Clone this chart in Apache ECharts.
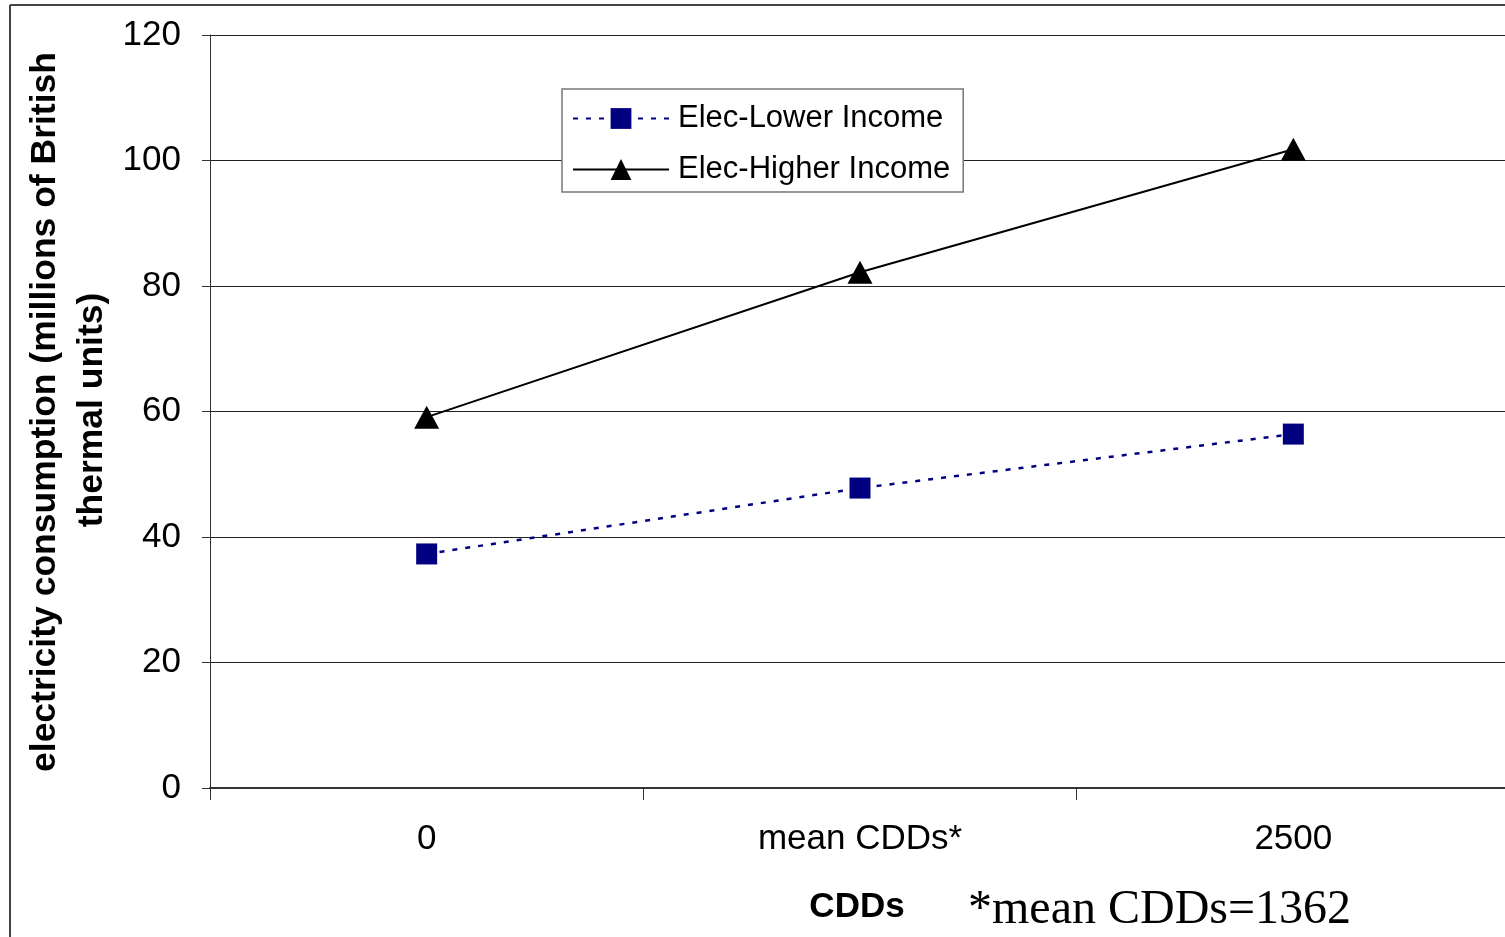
<!DOCTYPE html>
<html><head><meta charset="utf-8">
<script src="https://cdn.jsdelivr.net/npm/echarts@6/dist/echarts.min.js"></script>
<style>html,body{margin:0;padding:0;background:#fff;overflow:hidden}#c{width:1515px;height:937px}</style>
</head><body><div id="c"></div>
<script>
const categories = ['0', 'mean CDDs*', '2500'];
const lowerIncome = [37.3, 47.8, 56.4];
const higherIncome = [59.1, 82.2, 101.8];
const yTicks = [0, 20, 40, 60, 80, 100, 120];
const seriesNames = ['Elec-Lower Income', 'Elec-Higher Income'];

const chart = echarts.init(document.getElementById('c'), null, {renderer: 'canvas'});
const font = 'Liberation Sans, Arial, sans-serif';
chart.setOption({
  animation: false,
  backgroundColor: '#fff',
  grid: {left: 210, width: 1300, top: 35, height: 753, containLabel: false},
  xAxis: {
    type: 'category', data: categories, boundaryGap: true,
    axisLine: {lineStyle: {color: '#333', width: 2}},
    axisTick: {show: true, length: 12, lineStyle: {color: '#333', width: 1}},
    axisLabel: {fontFamily: font, fontSize: 35, color: '#000', margin: 34}
  },
  yAxis: {
    type: 'value', min: yTicks[0], max: yTicks[yTicks.length - 1], interval: 20,
    axisLine: {show: true, lineStyle: {color: '#333', width: 1}},
    axisTick: {show: true, length: 8, lineStyle: {color: '#333'}},
    axisLabel: {fontFamily: font, fontSize: 35, color: '#000', margin: 29},
    splitLine: {lineStyle: {color: '#222', width: 1}}
  },
  legend: {
    orient: 'vertical', left: 562, top: 89,
    data: seriesNames,
    backgroundColor: '#fff', borderColor: '#777', borderWidth: 1.5,
    padding: [14, 13, 7, 10], itemGap: 20,
    itemWidth: 96, itemHeight: 26,
    textStyle: {fontFamily: font, fontSize: 31, color: '#000', padding: [0, 0, 0, 4]}
  },
  graphic: [
    {type: 'line', shape: {x1: 10, y1: 5, x2: 1515, y2: 5}, style: {stroke: '#444', lineWidth: 2}},
    {type: 'line', shape: {x1: 10, y1: 5, x2: 10, y2: 937}, style: {stroke: '#444', lineWidth: 2}},
    {type: 'text', x: 45, y: 412, rotation: Math.PI / 2,
     style: {text: 'electricity consumption (millions of British', fontFamily: font, fontWeight: 'bold', fontSize: 35.5, fill: '#000', align: 'center', verticalAlign: 'middle'}},
    {type: 'text', x: 92, y: 410, rotation: Math.PI / 2,
     style: {text: 'thermal units)', fontFamily: font, fontWeight: 'bold', fontSize: 35.5, fill: '#000', align: 'center', verticalAlign: 'middle'}},
    {type: 'text', x: 857, y: 907,
     style: {text: 'CDDs', fontFamily: font, fontWeight: 'bold', fontSize: 35, fill: '#000', align: 'center', verticalAlign: 'middle'}},
    {type: 'text', x: 968, y: 910,
     style: {text: '*mean CDDs=1362', fontFamily: 'Liberation Serif, Times New Roman, serif', fontSize: 48, fill: '#000', align: 'left', verticalAlign: 'middle'}}
  ],
  series: [
    {name: seriesNames[0], type: 'line', data: lowerIncome,
     symbol: 'rect', symbolSize: 21,
     itemStyle: {color: '#000080'},
     lineStyle: {color: '#000080', width: 2.5, type: [5, 8]}},
    {name: seriesNames[1], type: 'line', data: higherIncome,
     symbol: 'triangle', symbolSize: [25, 23],
     itemStyle: {color: '#000'},
     lineStyle: {color: '#000', width: 2}}
  ]
});
</script></body></html>
